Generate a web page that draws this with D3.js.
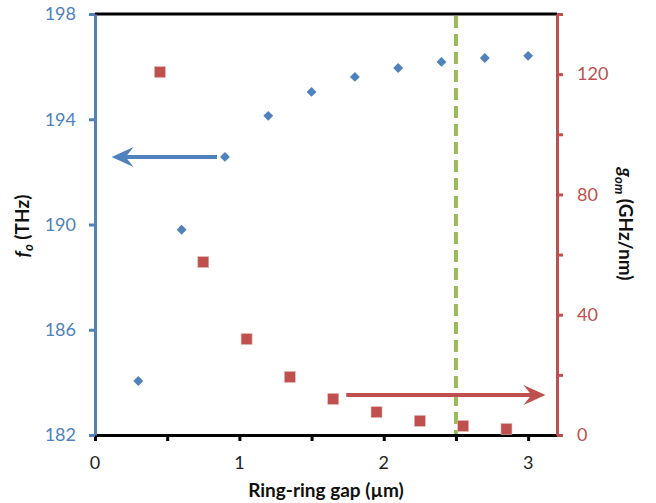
<!DOCTYPE html>
<html>
<head>
<meta charset="utf-8">
<script src="https://cdn.jsdelivr.net/npm/d3@7"></script>
<style>
  body { margin: 0; background: #fff; }
  text { font-family: Lato, "Open Sans", sans-serif; }
</style>
</head>
<body>
<svg id="chart" width="656" height="503"></svg>
<script>
// ring-ring gap (um) vs resonance frequency f_o (THz)
var gapF = [0.3, 0.6, 0.9, 1.2, 1.5, 1.8, 2.1, 2.4, 2.7, 3.0];
var freq = [184.05, 189.8, 192.57, 194.13, 195.04, 195.61, 195.95, 196.18, 196.33, 196.41];

// ring-ring gap (um) vs coupling g_om (GHz/nm)
var gapG = [0.45, 0.75, 1.05, 1.35, 1.65, 1.95, 2.25, 2.55, 2.85];
var gom = [120.7, 57.5, 31.9, 19.3, 12.0, 7.6, 4.7, 3.0, 2.0];

var xTicks = [0, 1, 2, 3];
var leftTicks = [182, 186, 190, 194, 198];
var rightTicks = [0, 40, 80, 120];

var blue = "#4f81bd", red = "#c0504d", green = "#9bbb59";

var svg = d3.select("#chart");
var pLeft = 95, pRight = 557, pTop = 14, pBottom = 435;

var x = d3.scaleLinear().domain([0, 3.2]).range([pLeft, pRight]);
var yL = d3.scaleLinear().domain([182, 198]).range([pBottom, pTop]);
var yR = d3.scaleLinear().domain([0, 140]).range([pBottom, pTop]);

// top frame line
svg.append("line")
	.attr("x1", pLeft).attr("x2", pRight).attr("y1", pTop).attr("y2", pTop)
	.attr("stroke", "#000").attr("stroke-width", 3);

// x axis
var xAxis = svg.append("g")
	.attr("transform", "translate(0," + pBottom + ")")
	.call(d3.axisBottom(x).tickValues(d3.range(0, 3.01, 0.5)).tickSize(6).tickSizeOuter(0).tickFormat(""));
xAxis.select(".domain").attr("stroke", "#000").attr("stroke-width", 3);
xAxis.selectAll(".tick line").attr("stroke", "#000").attr("stroke-width", 3);

svg.append("g").selectAll("text")
	.data(xTicks)
	.join("text")
	.attr("x", d => x(d))
	.attr("y", 469)
	.attr("text-anchor", "middle")
	.attr("font-size", 18)
	.attr("fill", "#222")
	.text(d => d);

// left axis
var lAxis = svg.append("g")
	.attr("transform", "translate(" + pLeft + ",0)")
	.call(d3.axisLeft(yL).tickValues(leftTicks).tickSize(6).tickPadding(13).tickSizeOuter(0));
lAxis.select(".domain").attr("stroke", blue).attr("stroke-width", 3);
lAxis.selectAll(".tick line").attr("stroke", blue).attr("stroke-width", 3);
lAxis.selectAll(".tick text").attr("fill", blue).attr("font-size", 18)
	.style("font-family", "Lato, sans-serif");

// right axis
var rAxis = svg.append("g")
	.attr("transform", "translate(" + pRight + ",0)")
	.call(d3.axisRight(yR).tickValues(d3.range(0, 141, 20)).tickSize(6).tickPadding(14).tickSizeOuter(0)
		.tickFormat(d => rightTicks.indexOf(d) >= 0 ? d : ""));
rAxis.select(".domain").attr("stroke", red).attr("stroke-width", 3);
rAxis.selectAll(".tick line").attr("stroke", red).attr("stroke-width", 3);
rAxis.selectAll(".tick text").attr("fill", red).attr("font-size", 18)
	.style("font-family", "Lato, sans-serif");

// green dashed marker at 2.5 um
svg.append("line")
	.attr("x1", x(2.5)).attr("x2", x(2.5))
	.attr("y1", pTop + 2).attr("y2", pBottom - 1)
	.attr("stroke", green).attr("stroke-width", 4)
	.attr("stroke-dasharray", "12,6");

// arrows
function arrow(x1, x2, y, col) {
	var dir = x2 > x1 ? 1 : -1;
	svg.append("line")
		.attr("x1", x1).attr("x2", x2 - dir * 8).attr("y1", y).attr("y2", y)
		.attr("stroke", col).attr("stroke-width", 4);
	var p = [[x2, y], [x2 - dir * 22, y - 10], [x2 - dir * 14, y], [x2 - dir * 22, y + 10]];
	svg.append("path")
		.attr("d", "M" + p.join("L") + "Z")
		.attr("fill", col);
}
arrow(x(0.845), x(0.115), yL(192.57), blue);
arrow(x(1.74), x(3.12), yR(13.3), red);

// blue diamonds
svg.append("g").selectAll("path")
	.data(gapF)
	.join("path")
	.attr("transform", (d, i) => "translate(" + x(d) + "," + yL(freq[i]) + ") rotate(45)")
	.attr("d", "M-3.5,-3.5H3.5V3.5H-3.5Z")
	.attr("fill", blue);

// red squares
svg.append("g").selectAll("rect")
	.data(gapG)
	.join("rect")
	.attr("x", d => x(d) - 5.5)
	.attr("y", (d, i) => yR(gom[i]) - 5.5)
	.attr("width", 11).attr("height", 11)
	.attr("fill", red)
	.attr("stroke", "#e6b9b8").attr("stroke-width", 0.6);

// axis titles
svg.append("text")
	.attr("x", 326).attr("y", 497)
	.attr("text-anchor", "middle")
	.attr("font-size", 19).attr("font-weight", "bold")
	.attr("fill", "#111")
	.text("Ring-ring gap (µm)");

var lt = svg.append("text")
	.attr("transform", "translate(29,226) rotate(-90)")
	.attr("text-anchor", "middle")
	.attr("font-size", 19).attr("font-weight", "bold")
	.attr("fill", "#111");
lt.append("tspan").attr("font-style", "italic").text("f");
lt.append("tspan").attr("font-style", "italic").attr("font-size", 13).attr("dy", 4).text("o");
lt.append("tspan").attr("dy", -4).text(" (THz)");

var rt = svg.append("text")
	.attr("transform", "translate(619,224) rotate(90)")
	.attr("text-anchor", "middle")
	.attr("font-size", 19).attr("font-weight", "bold")
	.attr("fill", "#111");
rt.append("tspan").attr("font-style", "italic").text("g");
rt.append("tspan").attr("font-style", "italic").attr("font-size", 13).attr("dy", 4).text("om");
rt.append("tspan").attr("dy", -4).text(" (GHz/nm)");
</script>
</body>
</html>
